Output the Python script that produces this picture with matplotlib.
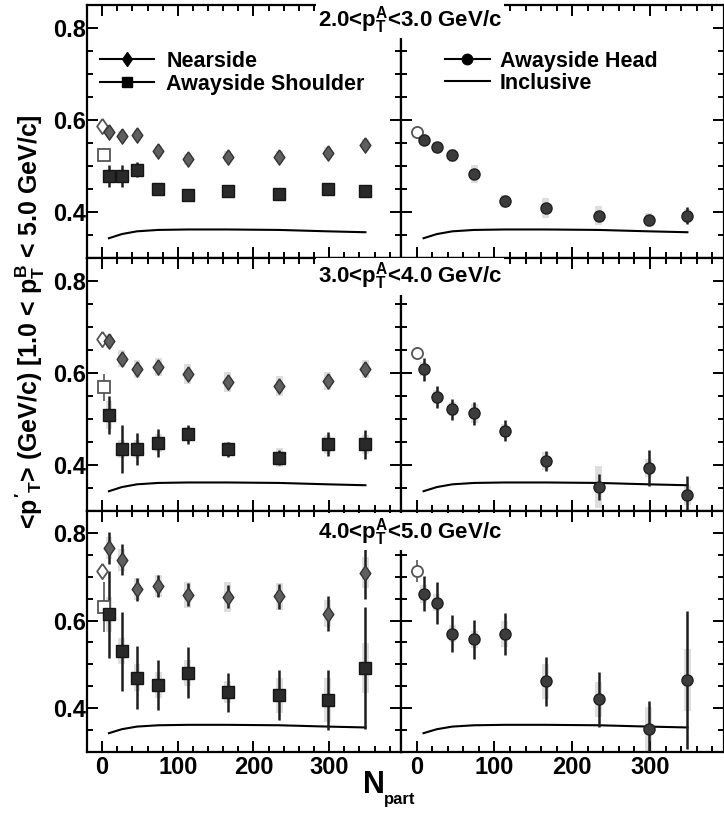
import matplotlib
matplotlib.use("Agg")
import matplotlib.pyplot as plt
from matplotlib.lines import Line2D
from matplotlib.ticker import MultipleLocator, FixedLocator

plt.rcParams["font.family"] = ["Liberation Sans", "DejaVu Sans"]
plt.rcParams["font.weight"] = "bold"
plt.rcParams["mathtext.fontset"] = "custom"
plt.rcParams["mathtext.rm"] = "Liberation Sans:bold"
plt.rcParams["mathtext.it"] = "Liberation Sans:bold"
plt.rcParams["mathtext.bf"] = "Liberation Sans:bold"

# centrality points (filled) and the reference point (open symbols)
npart = [9, 26, 46, 74, 113, 166, 234, 298, 348]
npart_ref = 1

# inclusive <pT> of the B particles, same in every panel
incl_x = [9, 26, 46, 74, 113, 166, 234, 298, 348]
incl_y = [0.343, 0.352, 0.358, 0.361, 0.362, 0.362, 0.361, 0.358, 0.356]

bin_labels = ["2.0<p$_T^A$<3.0 GeV/c", "3.0<p$_T^A$<4.0 GeV/c", "4.0<p$_T^A$<5.0 GeV/c"]

# nearside (diamonds)
near_y = [
    [0.573, 0.566, 0.568, 0.532, 0.515, 0.520, 0.520, 0.529, 0.546],
    [0.670, 0.631, 0.609, 0.613, 0.598, 0.580, 0.572, 0.583, 0.609],
    [0.765, 0.739, 0.671, 0.678, 0.659, 0.654, 0.655, 0.616, 0.709],
]
near_err = [
    [0.008, 0.008, 0.008, 0.008, 0.008, 0.008, 0.008, 0.008, 0.010],
    [0.012, 0.010, 0.010, 0.010, 0.012, 0.012, 0.012, 0.012, 0.015],
    [0.036, 0.035, 0.026, 0.025, 0.026, 0.026, 0.028, 0.039, 0.060],
]
near_sys = [
    [0.010, 0.010, 0.010, 0.012, 0.012, 0.012, 0.012, 0.012, 0.012],
    [0.015, 0.018, 0.020, 0.020, 0.022, 0.022, 0.022, 0.020, 0.020],
    [0.025, 0.025, 0.025, 0.025, 0.030, 0.035, 0.030, 0.030, 0.035],
]
near_ref = [0.586, 0.675, 0.713]
near_ref_err = [0.006, 0.008, 0.015]

# awayside shoulder (squares)
shoulder_y = [
    [0.479, 0.478, 0.492, 0.450, 0.438, 0.445, 0.440, 0.450, 0.445],
    [0.509, 0.435, 0.435, 0.448, 0.467, 0.434, 0.416, 0.445, 0.445],
    [0.614, 0.530, 0.470, 0.453, 0.481, 0.436, 0.430, 0.419, 0.492],
]
shoulder_err = [
    [0.024, 0.024, 0.016, 0.008, 0.008, 0.008, 0.008, 0.008, 0.008],
    [0.042, 0.053, 0.035, 0.030, 0.021, 0.017, 0.017, 0.026, 0.031],
    [0.100, 0.090, 0.072, 0.057, 0.058, 0.045, 0.057, 0.069, 0.140],
]
shoulder_sys = [
    [0.010, 0.010, 0.010, 0.010, 0.010, 0.010, 0.010, 0.010, 0.010],
    [0.030, 0.020, 0.020, 0.020, 0.015, 0.015, 0.020, 0.020, 0.020],
    [0.040, 0.030, 0.030, 0.030, 0.030, 0.025, 0.040, 0.050, 0.057],
]
shoulder_ref = [0.525, 0.569, 0.630]
shoulder_ref_err = [0.006, 0.029, 0.057]

# awayside head (circles)
head_y = [
    [0.557, 0.541, 0.523, 0.483, 0.423, 0.409, 0.392, 0.383, 0.392],
    [0.608, 0.548, 0.521, 0.512, 0.475, 0.409, 0.352, 0.393, 0.334],
    [0.661, 0.641, 0.570, 0.557, 0.569, 0.461, 0.420, 0.352, 0.464],
]
head_err = [
    [0.008, 0.008, 0.008, 0.008, 0.008, 0.008, 0.008, 0.008, 0.018],
    [0.025, 0.024, 0.023, 0.025, 0.023, 0.022, 0.028, 0.039, 0.043],
    [0.040, 0.048, 0.042, 0.044, 0.048, 0.056, 0.062, 0.064, 0.157],
]
head_sys = [
    [0.012, 0.012, 0.015, 0.020, 0.015, 0.022, 0.020, 0.015, 0.015],
    [0.015, 0.015, 0.015, 0.020, 0.015, 0.020, 0.045, 0.020, 0.020],
    [0.020, 0.020, 0.020, 0.020, 0.030, 0.040, 0.040, 0.050, 0.070],
]
head_ref = [0.575, 0.644, 0.713]
head_ref_err = [0.006, 0.012, 0.025]

W, H = 724, 816
rows = [(5, 258), (258, 511), (511, 752)]
cols = [(87, 401), (401, 724)]
label_offset = [21, 25, 27]

diamond = [(0, 1), (0.7, 0), (0, -1), (-0.7, 0), (0, 1)]
near_fc, near_ec = "#5f5f5f", "#333333"
shoulder_fc, shoulder_ec = "#2a2a2a", "#151515"
head_fc, head_ec = "#3c3c3c", "#202020"
sys_color = "#dedede"
err_color = "#1e1e1e"


def rect(x0, x1, y0, y1):
    return [x0 / W, 1 - y1 / H, (x1 - x0) / W, (y1 - y0) / H]


def draw_series(ax, x, y, err, sys, marker, ms, fc, ec):
    ax.bar(x, [2 * s for s in sys], bottom=[v - s for v, s in zip(y, sys)],
           width=9, color=sys_color, zorder=1)
    ax.errorbar(x, y, yerr=err, fmt="none", ecolor=err_color,
                elinewidth=1.8, capsize=0, zorder=3)
    ax.plot(x, y, ls="none", marker=marker, ms=ms, mfc=fc, mec=ec,
            mew=1.0, zorder=4)


def draw_ref(ax, x, y, err, marker, ms, dx=0):
    ax.errorbar([x + dx], [y], yerr=[err], fmt="none", ecolor="#555555",
                elinewidth=1.2, capsize=0, zorder=3)
    ax.plot([x + dx], [y], ls="none", marker=marker, ms=ms, mfc="white",
            mec="#555555", mew=1.3, zorder=3.5)


def style_axis(ax, show_x, show_y):
    ax.set_xlim(-20, 395)
    ax.set_ylim(0.3, 0.85)
    ax.xaxis.set_major_locator(MultipleLocator(100))
    ax.xaxis.set_minor_locator(MultipleLocator(20))
    ax.yaxis.set_major_locator(FixedLocator([0.4, 0.6, 0.8]))
    ax.yaxis.set_minor_locator(MultipleLocator(0.05))
    ax.tick_params(which="both", direction="in", top=True, right=True,
                   labelsize=17, width=1.4)
    ax.tick_params(which="major", length=8)
    ax.tick_params(which="minor", length=4.5)
    ax.tick_params(axis="y", pad=1)
    ax.tick_params(axis="x", pad=3)
    for sp in ax.spines.values():
        sp.set_linewidth(1.6)
    if not show_x:
        ax.tick_params(labelbottom=False)
    if not show_y:
        ax.tick_params(labelleft=False)
    else:
        ax.set_yticklabels(["0.4", "0.6", "0.8"])


fig = plt.figure(figsize=(W / 100, H / 100), dpi=100)

for r, (top, bot) in enumerate(rows):
    axL = fig.add_axes(rect(cols[0][0], cols[0][1], top, bot))
    axR = fig.add_axes(rect(cols[1][0], cols[1][1], top, bot))

    for ax in (axL, axR):
        ax.plot(incl_x, incl_y, color="black", lw=1.5, zorder=2)

    draw_ref(axL, npart_ref, near_ref[r], near_ref_err[r], diamond, 11, dx=-1)
    draw_ref(axL, npart_ref, shoulder_ref[r], shoulder_ref_err[r], "s", 8, dx=1)
    draw_series(axL, npart, near_y[r], near_err[r], near_sys[r],
                diamond, 11, near_fc, near_ec)
    draw_series(axL, npart, shoulder_y[r], shoulder_err[r], shoulder_sys[r],
                "s", 8, shoulder_fc, shoulder_ec)

    draw_ref(axR, npart_ref, head_ref[r], head_ref_err[r], "o", 8, dx=-1)
    draw_series(axR, npart, head_y[r], head_err[r], head_sys[r],
                "o", 8, head_fc, head_ec)

    style_axis(axL, show_x=(r == 2), show_y=True)
    style_axis(axR, show_x=(r == 2), show_y=False)

    fig.text(410 / W, 1 - (top + label_offset[r]) / H, bin_labels[r],
             ha="center", va="baseline", fontsize=16, zorder=10,
             bbox=dict(boxstyle="square,pad=0.1", fc="white", ec="none"))

    if r == 0:
        hL = [Line2D([], [], color="black", lw=1.5, marker=diamond, ms=10,
                     mfc="black", mec="black"),
              Line2D([], [], color="black", lw=1.5, marker="s", ms=7.5,
                     mfc="black", mec="black")]
        axL.legend(hL, ["Nearside", "Awayside Shoulder"], loc="upper left",
                   bbox_to_anchor=(0.04, 0.82), frameon=False, fontsize=15.5,
                   handlelength=2.55, handletextpad=0.55, labelspacing=0.1,
                   borderpad=0, borderaxespad=0, numpoints=1)
        hR = [Line2D([], [], color="black", lw=1.5, marker="o", ms=7.5,
                     mfc="black", mec="black"),
              Line2D([], [], color="black", lw=1.5)]
        axR.legend(hR, ["Awayside Head", "Inclusive"], loc="upper left",
                   bbox_to_anchor=(0.135, 0.82), frameon=False, fontsize=15.5,
                   handlelength=2.1, handletextpad=0.45, labelspacing=0.05,
                   borderpad=0, borderaxespad=0, numpoints=1)

fig.text(30 / W, 1 - 322 / H,
         r"<$p'_T$> (GeV/c) [1.0 < $p_T^B$ < 5.0 GeV/c]",
         rotation=90, ha="center", va="center", fontsize=18)
fig.text(363 / W, 1 - 793 / H, "N", ha="left", va="baseline", fontsize=22)
fig.text(384 / W, 1 - 804 / H, "part", ha="left", va="baseline", fontsize=12)

fig.savefig("out.png", dpi=100)
